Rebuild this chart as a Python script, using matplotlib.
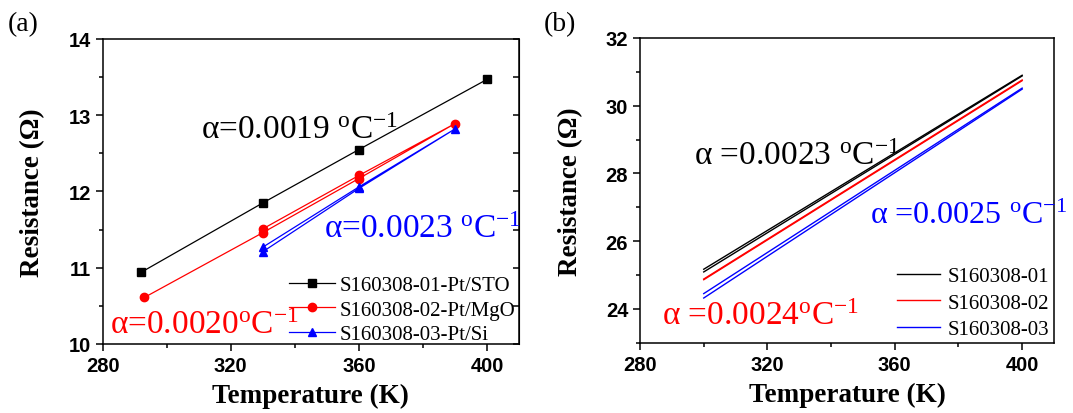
import matplotlib
matplotlib.use("Agg")
import matplotlib.pyplot as plt
from matplotlib.ticker import MultipleLocator

plt.rcParams["font.family"] = "Liberation Serif"
plt.rcParams["mathtext.fontset"] = "custom"
plt.rcParams["mathtext.rm"] = "Liberation Serif"
plt.rcParams["mathtext.it"] = "Liberation Serif:italic"

# (a) measured points, heating then cooling
temp_01 = [292, 330, 360, 400]
res_01 = [10.94, 11.85, 12.55, 13.47]
temp_02 = [293, 330, 360, 390, 360, 330]
res_02 = [10.61, 11.46, 12.17, 12.89, 12.21, 11.51]
temp_03 = [330, 360, 390, 360, 330]
res_03 = [11.21, 12.04, 12.82, 12.06, 11.27]
labels_a = ["S160308-01-Pt/STO", "S160308-02-Pt/MgO", "S160308-03-Pt/Si"]
alpha_a = ["0.0019", "0.0020", "0.0023"]

# (b) linear fits, two runs per sample
temp_fit = [300, 400]
fit_01_up = [25.17, 30.90]
fit_01_dn = [25.09, 30.88]
fit_02_up = [24.88, 30.76]
fit_02_dn = [24.86, 30.74]
fit_03_up = [24.45, 30.52]
fit_03_dn = [24.32, 30.49]
labels_b = ["S160308-01", "S160308-02", "S160308-03"]
alpha_b = ["0.0023", "0.0024", "0.0025"]

colors = ["black", "#ff0000", "#0000ff"]
sans_bold = {"family": "Liberation Sans", "weight": "bold", "size": 14.5}
unit = r"$^{\mathrm{o}}$C$^{\mathrm{-1}}$"


def style_axes(ax, ylim, ymajor, yminor):
    ax.set_xlim(280, 410)
    ax.set_ylim(*ylim)
    ax.xaxis.set_major_locator(MultipleLocator(40))
    ax.xaxis.set_minor_locator(MultipleLocator(20))
    ax.yaxis.set_major_locator(MultipleLocator(ymajor))
    ax.yaxis.set_minor_locator(MultipleLocator(yminor))
    ax.tick_params(which="major", direction="out", length=5, width=1.1)
    ax.tick_params(which="minor", direction="out", length=3, width=1.1)
    for lab in ax.get_xticklabels() + ax.get_yticklabels():
        lab.set_fontproperties(sans_bold)
    for sp in ax.spines.values():
        sp.set_linewidth(1.1)
    ax.set_xlabel("Temperature (K)", fontsize=19.5, fontweight="bold", va="center")
    ax.set_ylabel("Resistance (Ω)", fontsize=19.5, fontweight="bold", va="center")
    ax.xaxis.set_label_coords(0.5, -0.17)
    ax.yaxis.set_label_coords(-0.168, 0.5)


fig = plt.figure(figsize=(10.73, 4.14), dpi=100)
ax1 = fig.add_axes([0.0957, 0.1667, 0.388, 0.7367])
ax2 = fig.add_axes([0.5965, 0.1698, 0.3858, 0.736])

# ---- panel (a)
ax1.plot(temp_01, res_01, color=colors[0], lw=0.9, marker="s", ms=5.5, label=labels_a[0])
ax1.plot(temp_02, res_02, color=colors[1], lw=0.9, marker="o", ms=6, label=labels_a[1])
ax1.plot(temp_03, res_03, color=colors[2], lw=0.9, marker="^", ms=6, label=labels_a[2])
style_axes(ax1, (10, 14), 1, 0.5)

# inward ticks on the right side
sec = ax1.secondary_yaxis("right")
sec.yaxis.set_major_locator(MultipleLocator(1))
sec.yaxis.set_minor_locator(MultipleLocator(0.5))
sec.tick_params(which="both", direction="in", length=4, width=1.1, labelright=False)

ax1.legend(loc="lower right", frameon=False, fontsize=15, handlelength=2.2,
           handletextpad=0.25, labelspacing=0.24, borderaxespad=0.0,
           bbox_to_anchor=(1.012, -0.028))

ax1.text(310.8, 12.70, "α=" + alpha_a[0] + " " + unit, color=colors[0], fontsize=24)
ax1.text(282.2, 10.15, "α=" + alpha_a[1] + unit, color=colors[1], fontsize=24)
ax1.text(349.1, 11.40, "α=" + alpha_a[2] + " " + unit, color=colors[2], fontsize=24)
fig.text(0.007, 0.925, "(a)", fontsize=20)

# ---- panel (b)
ax2.plot(temp_fit, fit_01_up, color=colors[0], lw=1.0, label=labels_b[0])
ax2.plot(temp_fit, fit_01_dn, color=colors[0], lw=1.0)
ax2.plot(temp_fit, fit_02_up, color=colors[1], lw=1.0, label=labels_b[1])
ax2.plot(temp_fit, fit_02_dn, color=colors[1], lw=1.0)
ax2.plot(temp_fit, fit_03_up, color=colors[2], lw=1.0, label=labels_b[2])
ax2.plot(temp_fit, fit_03_dn, color=colors[2], lw=1.0)
style_axes(ax2, (23, 32), 2, 1)

ax2.legend(loc="lower right", frameon=False, fontsize=15, handlelength=2.1,
           handletextpad=0.33, labelspacing=0.32, borderaxespad=0.0,
           bbox_to_anchor=(1.008, -0.015))

ax2.text(296.8, 28.29, "α =" + alpha_b[0] + " " + unit, color=colors[0], fontsize=24)
ax2.text(286.9, 23.55, "α =" + alpha_b[1] + unit, color=colors[1], fontsize=24)
ax2.text(352.3, 26.55, "α =" + alpha_b[2] + " " + unit, color=colors[2], fontsize=23)
fig.text(0.507, 0.925, "(b)", fontsize=20)

fig.savefig("out.png", dpi=100)
